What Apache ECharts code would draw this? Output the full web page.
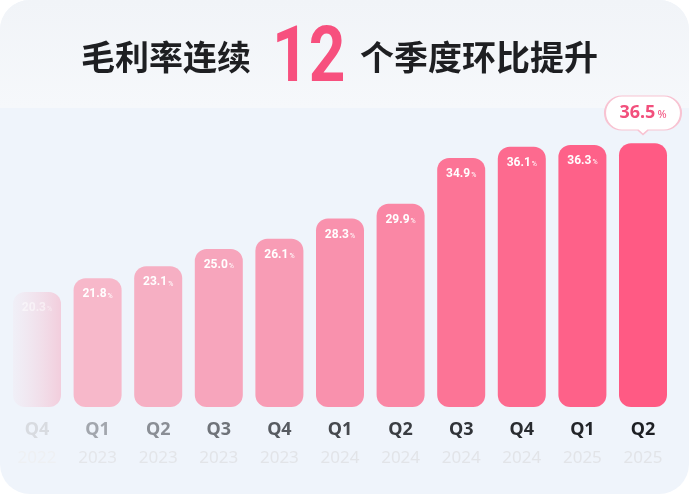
<!DOCTYPE html>
<html><head><meta charset="utf-8">
<script src="https://cdn.jsdelivr.net/npm/echarts@6/dist/echarts.min.js"></script>
<style>html,body{margin:0;padding:0;background:#fff;}#c{width:692px;height:494px;}</style>
</head><body><div id="c"></div>
<script>
const quarters = ['Q4','Q1','Q2','Q3','Q4','Q1','Q2','Q3','Q4','Q1','Q2'];
const years = ['2022','2023','2023','2023','2023','2024','2024','2024','2024','2025','2025'];
const margins = [20.3,21.8,23.1,25.0,26.1,28.3,29.9,34.9,36.1,36.3,36.5];
const titleLeft = '毛利率连续';
const titleNum = '12';
const titleRight = '个季度环比提升';

const categories = quarters.map((q,i)=>q+' '+years[i]);
const barColors = [null,'#F7B8CA','#F6AFC3','#F7A5BC','#F89CB5','#F991AD','#FA87A5','#FC7496','#FD6A8F','#FE6189','#FF5A84'];
const qColors = ['#D8DBE0','#A2A6AD','#8A8E95','#6F7379','#575B61','#46494E','#3A3D42','#303338','#282B2F','#222428','#1D1F23'];
const yColors = ['#EEF0F3','#E4E6EA','#E3E5E9','#E2E4E8','#E2E4E8','#E2E4E8','#E2E4E8','#E2E4E8','#E2E4E8','#E2E4E8','#E2E4E8'];

const rich = {};
quarters.forEach((q,i)=>{
  rich['q'+i] = {fontFamily:'Noto Sans', fontWeight:'bold', fontSize:18, color:qColors[i], lineHeight:29};
  rich['y'+i] = {fontFamily:'Noto Sans', fontSize:17, color:yColors[i], lineHeight:29};
});

const last = margins.length-1;
const barData = margins.map((v,i)=>{
  const item = {value:v};
  if(i===0){
    item.itemStyle = {color:new echarts.graphic.LinearGradient(0,0,1,0,[
      {offset:0,color:'rgba(244,214,226,0.15)'},{offset:1,color:'rgba(243,196,213,0.8)'}])};
    item.label = {rich:{v:{color:'rgba(255,255,255,0.5)'},p:{color:'rgba(255,255,255,0.5)'}}};
  } else {
    item.itemStyle = {color:barColors[i]};
  }
  if(i===last){ item.label = {show:false}; }
  return item;
});

const chart = echarts.init(document.getElementById('c'));
chart.setOption({
  backgroundColor:'#ffffff',
  animation:false,
  graphic:[
    {type:'rect', z:-10, shape:{x:0,y:0,width:689,height:494,r:30}, style:{fill:'#EFF4FB'}},
    {type:'rect', z:-9, shape:{x:0,y:0,width:689,height:108,r:[30,30,0,0]},
      style:{fill:new echarts.graphic.LinearGradient(0,0,0,1,[{offset:0,color:'#F1F4F8'},{offset:1,color:'#F6F8FB'}])}},
    {type:'text', z:10, left:81, top:40, style:{text:titleLeft, fontFamily:'Noto Sans CJK SC', fontWeight:'bold', fontSize:34, fill:'#1E1F22'}},
    {type:'text', z:10, x:272, y:22, scaleX:0.82, style:{text:titleNum, fontFamily:'Roboto', fontWeight:'bold', fontSize:78, fill:'#F7507E'}},
    {type:'text', z:10, left:360, top:40, style:{text:titleRight, fontFamily:'Noto Sans CJK SC', fontWeight:'bold', fontSize:34, fill:'#1E1F22'}}
  ],
  grid:{left:6.7, right:18.7, top:111, bottom:87},
  xAxis:{type:'category', data:categories,
    axisLine:{show:false}, axisTick:{show:false},
    axisLabel:{margin:8, interval:0,
      formatter:(v,i)=>{const p=v.split(' ');return '{q'+i+'|'+p[0]+'}\n{y'+i+'|'+p[1]+'}';},
      rich:rich}},
  yAxis:{type:'value', min:7.8, max:40, show:false, splitLine:{show:false}},
  series:[{
    type:'bar', barWidth:48, data:barData,
    itemStyle:{borderRadius:12},
    label:{show:true, position:'insideTop', distance:10,
      formatter:p=>'{v|'+p.value.toFixed(1)+'}{p|%}',
      rich:{v:{fontFamily:'Roboto', fontWeight:'bold', fontSize:12, color:'#ffffff'},
            p:{fontFamily:'Roboto', fontSize:7, color:'#ffffff', padding:[3,0,0,1]}}},
    markPoint:{
      symbol:'path://M17,0 H59 A17,17 0 0 1 59,34 H43 L38,38.5 L33,34 H17 A17,17 0 0 1 17,0 Z',
      symbolSize:[76,38.5],
      symbolOffset:[0,-28],
      itemStyle:{color:'#ffffff', borderColor:'#F8C3D2', borderWidth:1.5},
      label:{show:true, position:'inside', offset:[0,-2],
        formatter:p=>'{v|'+margins[last].toFixed(1)+'}{p|%}',
        rich:{v:{fontFamily:'Noto Sans', fontWeight:'bold', fontSize:18, color:'#F24F7C'},
              p:{fontFamily:'Noto Sans', fontSize:11, color:'#F24F7C', padding:[4,0,0,2]}}},
      data:[{coord:[last, margins[last]]}]
    }
  }]
});
</script></body></html>
